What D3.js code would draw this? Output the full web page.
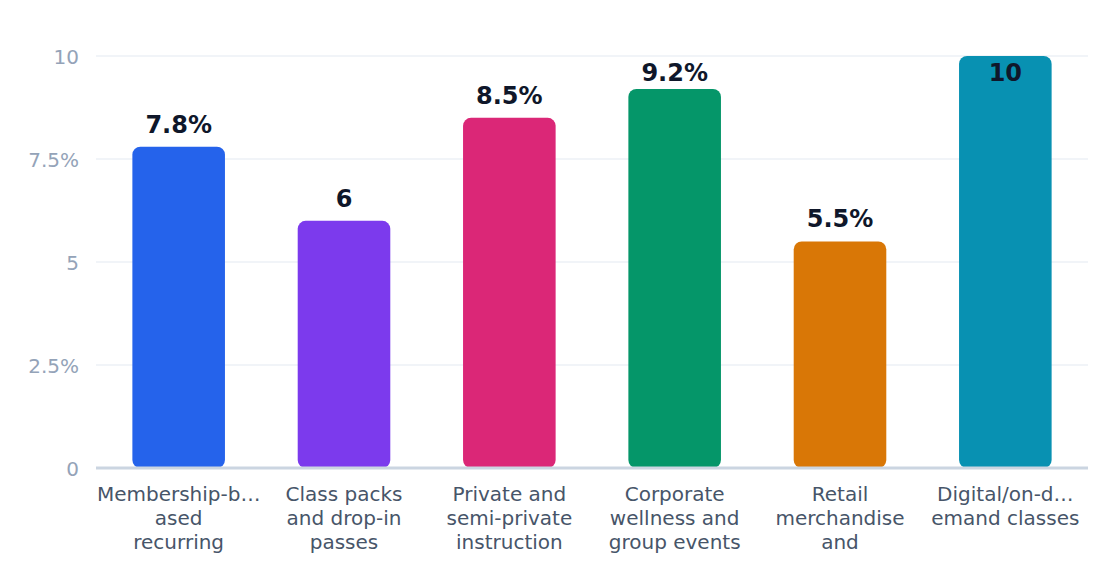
<html>
<head>
<meta charset="utf-8">
<script src="https://d3js.org/d3.v7.min.js"></script>
<style>
  body { margin: 0; background: #fff; }
  text { font-family: "DejaVu Sans", sans-serif; }
</style>
</head>
<body>
<script>
    // data
    var categories = [
        ["Membership-b\u2026", "ased", "recurring"],
        ["Class packs", "and drop-in", "passes"],
        ["Private and", "semi-private", "instruction"],
        ["Corporate", "wellness and", "group events"],
        ["Retail", "merchandise", "and"],
        ["Digital/on-d\u2026", "emand classes"]
    ];
    var values = [7.8, 6, 8.5, 9.2, 5.5, 10];
    var valueLabels = ["7.8%", "6", "8.5%", "9.2%", "5.5%", "10"];
    var colors = ["#2563eb", "#7c3aed", "#db2777", "#059669", "#d97706", "#0891b2"];
    var tickValues = [0, 2.5, 5, 7.5, 10];
    var tickLabels = ["0", "2.5%", "5", "7.5%", "10"];

    var W = 1120, H = 584;
    var margin = {top: 56, right: 32, bottom: 116, left: 96},
        width = W - margin.left - margin.right,
        height = H - margin.top - margin.bottom;

    var svg = d3.select("body").append("svg")
        .attr("width", W)
        .attr("height", H);
    var g = svg.append("g")
        .attr("transform", "translate(" + margin.left + "," + margin.top + ")");

    var x = d3.scaleBand()
        .domain(d3.range(values.length))
        .range([0, width])
        .paddingInner(0.44)
        .paddingOuter(0.22);

    var y = d3.scaleLinear()
        .domain([0, 10])
        .range([height, 0]);

    // gridlines
    g.selectAll(".grid").data(tickValues.filter(function(d) { return d > 0; })).enter()
        .append("line")
        .attr("x1", 0).attr("x2", width)
        .attr("y1", function(d) { return y(d); })
        .attr("y2", function(d) { return y(d); })
        .attr("stroke", "#f1f4f8")
        .attr("stroke-width", 2);

    // y axis labels
    var yAxis = d3.axisLeft(y)
        .tickValues(tickValues)
        .tickSize(0)
        .tickPadding(17)
        .tickFormat(function(d, i) { return tickLabels[i]; });
    var ya = g.append("g").call(yAxis);
    ya.select(".domain").remove();
    ya.selectAll("text")
        .attr("fill", "#94a3b8")
        .style("font-size", "20px")
        .attr("dy", "0.36em");

    // bars
    g.selectAll(".bar").data(values).enter()
        .append("rect")
        .attr("x", function(d, i) { return x(i); })
        .attr("y", function(d) { return y(d); })
        .attr("width", x.bandwidth())
        .attr("height", function(d) { return height - y(d); })
        .attr("rx", 8)
        .attr("fill", function(d, i) { return colors[i]; });

    // baseline
    g.append("line")
        .attr("x1", 0).attr("x2", width)
        .attr("y1", y(0)).attr("y2", y(0))
        .attr("stroke", "#cbd5e1")
        .attr("stroke-width", 3);

    // value labels, clamped so they don't run off the top
    g.selectAll(".val").data(values).enter()
        .append("text")
        .attr("x", function(d, i) { return x(i) + x.bandwidth() / 2; })
        .attr("y", function(d) { return Math.max(y(d) - 14, 25); })
        .attr("text-anchor", "middle")
        .attr("fill", "#0f172a")
        .style("font-size", "24px")
        .style("font-weight", "bold")
        .text(function(d, i) { return valueLabels[i]; });

    // category labels
    var cat = g.selectAll(".cat").data(categories).enter()
        .append("text")
        .attr("text-anchor", "middle")
        .attr("fill", "#475569")
        .style("font-size", "20px")
        .attr("transform", function(d, i) {
            return "translate(" + (x(i) + x.bandwidth() / 2) + "," + (height + 33) + ")";
        });
    cat.selectAll("tspan").data(function(d) { return d; }).enter()
        .append("tspan")
        .attr("x", 0)
        .attr("y", function(d, i) { return i * 24; })
        .text(function(d) { return d; });
</script>
</body>
</html>
